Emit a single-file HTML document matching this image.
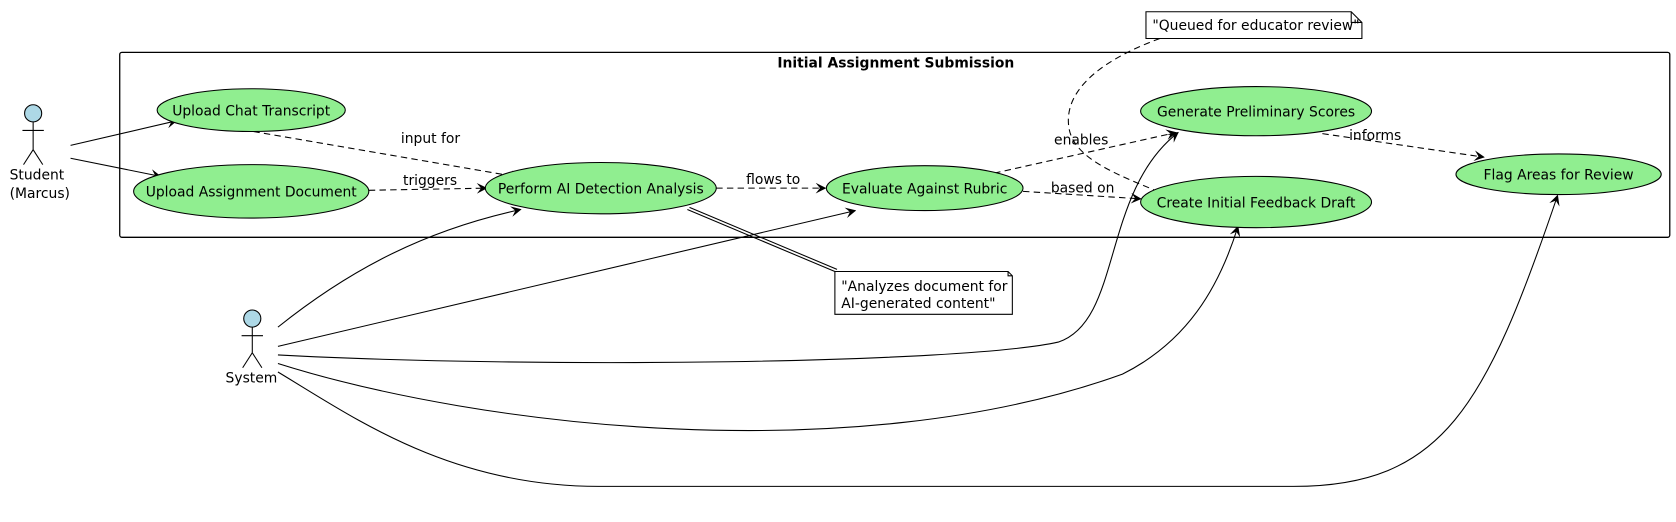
<!DOCTYPE html>
<html><head><meta charset="utf-8"><style>body{margin:0;background:#fff}svg{display:block}text{font-family:"DejaVu Sans","Liberation Sans",sans-serif;font-size:13px;fill:#000}</style></head><body>
<svg width="1676" height="522" viewBox="0 0 1676 522" xmlns="http://www.w3.org/2000/svg">
<defs><marker id="a" viewBox="0 0 10 10" refX="9" refY="5" markerWidth="10" markerHeight="10" orient="auto" markerUnits="userSpaceOnUse"><path d="M0,0 L10,5 L0,10 L4,5 Z" fill="#000"/></marker></defs>
<g transform="scale(1.069)">
<rect x="112" y="49" width="1450" height="173" rx="2" fill="none" stroke="#000" stroke-width="1.2"/>
<text x="838" y="63" text-anchor="middle" font-weight="bold">Initial Assignment Submission</text>
<g fill="none" stroke="#000" stroke-width="1">
<circle cx="31" cy="106" r="8" fill="#add8e6"/>
<line x1="31" y1="114" x2="31" y2="140"/><line x1="21" y1="122" x2="41" y2="122"/>
<line x1="31" y1="140" x2="22" y2="154"/><line x1="31" y1="140" x2="40" y2="154"/>
<circle cx="236" cy="298" r="8" fill="#add8e6"/>
<line x1="236" y1="306" x2="236" y2="330"/><line x1="226" y1="314" x2="246" y2="314"/>
<line x1="236" y1="330" x2="227" y2="344"/><line x1="236" y1="330" x2="245" y2="344"/>
<path d="M66,136 L165,113" marker-end="url(#a)"/>
<path d="M66,148 L150,165" marker-end="url(#a)"/>
<path d="M260,306 C330,250 400,215 487,196" marker-end="url(#a)"/>
<path d="M260,324 L800,197" marker-end="url(#a)"/>
<path d="M260,332 C500,345 900,340 990,320 C1050,300 1030,180 1102,124" marker-end="url(#a)"/>
<path d="M260,340 C450,400 800,440 1050,350 C1110,320 1140,270 1158,212" marker-end="url(#a)"/>
<path d="M260,348 C330,390 420,455 560,455 L1210,455 C1350,455 1390,380 1457,183" marker-end="url(#a)"/>
<g stroke-dasharray="6,4">
<path d="M237,123 L487,166" marker-end="url(#a)"/>
<path d="M345,178 L455,176" marker-end="url(#a)"/>
<path d="M670,176 L772,176" marker-end="url(#a)"/>
<path d="M930,162 L1100,124" marker-end="url(#a)"/>
<path d="M957,179 L1067,186" marker-end="url(#a)"/>
<path d="M1237,125 L1388,147" marker-end="url(#a)"/>
<path d="M1085,36 C1020,60 995,90 1000,120 C1005,150 1050,165 1090,182"/>
</g>
<path d="M643,196 L781,254"/><path d="M645,194 L783,252"/>
</g>
<g fill="#90ee90" stroke="#000" stroke-width="1">
<ellipse cx="235" cy="103" rx="88" ry="20"/>
<ellipse cx="235" cy="179" rx="110" ry="25"/>
<ellipse cx="562" cy="176" rx="108" ry="24"/>
<ellipse cx="865" cy="176" rx="92" ry="21"/>
<ellipse cx="1175" cy="104" rx="108" ry="23"/>
<ellipse cx="1175" cy="189" rx="108" ry="24"/>
<ellipse cx="1458" cy="163" rx="96" ry="19"/>
</g>
<g fill="#fff" stroke="#000">
<path d="M1072,11 H1264 L1274,21 V36 H1072 Z"/><path d="M1264,11 V21 H1274" fill="none"/>
<path d="M781,254 H943 L947,258 V294 H781 Z"/><path d="M943,254 V258 H947" fill="none"/>
</g>
<text x="1078" y="28">"Queued for educator review"</text>
<text x="787" y="272">"Analyzes document for</text>
<text x="787" y="288">AI-generated content"</text>
<text x="235" y="108" text-anchor="middle">Upload Chat Transcript</text>
<text x="235" y="184" text-anchor="middle">Upload Assignment Document</text>
<text x="562" y="181" text-anchor="middle">Perform AI Detection Analysis</text>
<text x="865" y="181" text-anchor="middle">Evaluate Against Rubric</text>
<text x="1175" y="109" text-anchor="middle">Generate Preliminary Scores</text>
<text x="1175" y="194" text-anchor="middle">Create Initial Feedback Draft</text>
<text x="1458" y="168" text-anchor="middle">Flag Areas for Review</text>
<text x="375" y="134">input for</text>
<text x="377" y="173">triggers</text>
<text x="698" y="172">flows to</text>
<text x="986" y="135">enables</text>
<text x="983" y="180">based on</text>
<text x="1262" y="131">informs</text>
<text x="9" y="168">Student</text>
<text x="9" y="185">(Marcus)</text>
<text x="211" y="358">System</text>
</g>
</svg>
</body></html>
